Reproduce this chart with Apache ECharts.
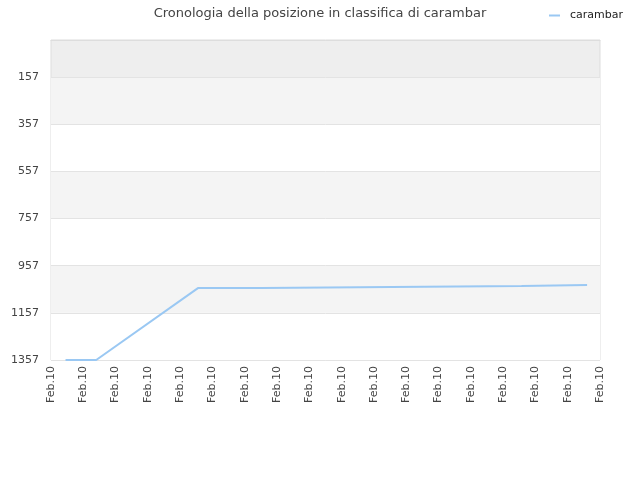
<!DOCTYPE html>
<html><head><meta charset="utf-8">
<script src="https://cdn.jsdelivr.net/npm/echarts@6/dist/echarts.min.js"></script>
<style>html,body{margin:0;padding:0;background:#fff}#c{width:640px;height:480px}</style>
</head><body><div id="c"></div>
<script>
var tickLabels = ['Feb.10','Feb.10','Feb.10','Feb.10','Feb.10','Feb.10','Feb.10','Feb.10','Feb.10','Feb.10','Feb.10','Feb.10','Feb.10','Feb.10','Feb.10','Feb.10','Feb.10','Feb.10'];
var yTicks = [157, 357, 557, 757, 957, 1157, 1357];
var xPos = [0.45, 1.4, 4.55, 6.53, 6.53, 10.55, 10.55, 14.57, 14.57, 16.6];
var ranks = [1357, 1357, 1052, 1052, 1047, 1047, 1043, 1043, 1039, 1039];
var seriesName = 'carambar';

var chart = echarts.init(document.getElementById('c'));
chart.setOption({
  animation: false,
  title: {text: 'Cronologia della posizione in classifica di carambar', left: 'center', top: 2,
    textStyle: {fontSize: 13, fontWeight: 'normal', color: '#444', fontFamily: 'DejaVu Sans'}},
  legend: {right: 12, top: 5, itemWidth: 11, itemHeight: 2, icon: 'rect', itemGap: 6,
    textStyle: {fontSize: 11, color: '#222', fontFamily: 'DejaVu Sans', padding: [0, 0, 0, 5]}, data: [seriesName]},
  grid: {left: 51, right: 40, top: 40, bottom: 120, show: true, borderColor: '#ddd', borderWidth: 1,
    backgroundColor: '#eeeeee'},
  xAxis: {type: 'value', min: 0, max: tickLabels.length - 1, interval: 1,
    axisLine: {lineStyle: {color: '#ddd'}}, axisTick: {show: false}, splitLine: {show: false},
    axisLabel: {rotate: 90, fontSize: 11, color: '#444', fontFamily: 'DejaVu Sans', margin: 6,
      formatter: function (v) { return tickLabels[Math.round(v)]; }}},
  yAxis: {type: 'value', inverse: true, min: 0, max: 1357,
    axisLine: {show: false}, axisTick: {show: false, customValues: yTicks},
    axisLabel: {customValues: yTicks, fontSize: 11, color: '#444', fontFamily: 'DejaVu Sans', margin: 12,
      padding: [3, 0, 0, 0],
      formatter: function (v) { return String(v); }},
    splitLine: {show: true, lineStyle: {color: '#e3e3e3'}},
    splitArea: {show: true, areaStyle: {color: ['#f4f4f4', '#ffffff', '#f4f4f4', '#ffffff', '#f4f4f4', '#ffffff']}}},
  series: [{name: seriesName, type: 'line', showSymbol: false, symbol: 'none',
    lineStyle: {width: 2, color: '#9ac8f3'}, itemStyle: {color: '#9ac8f3'},
    data: xPos.map(function (x, i) { return [x, ranks[i]]; })}]
});
</script></body></html>
